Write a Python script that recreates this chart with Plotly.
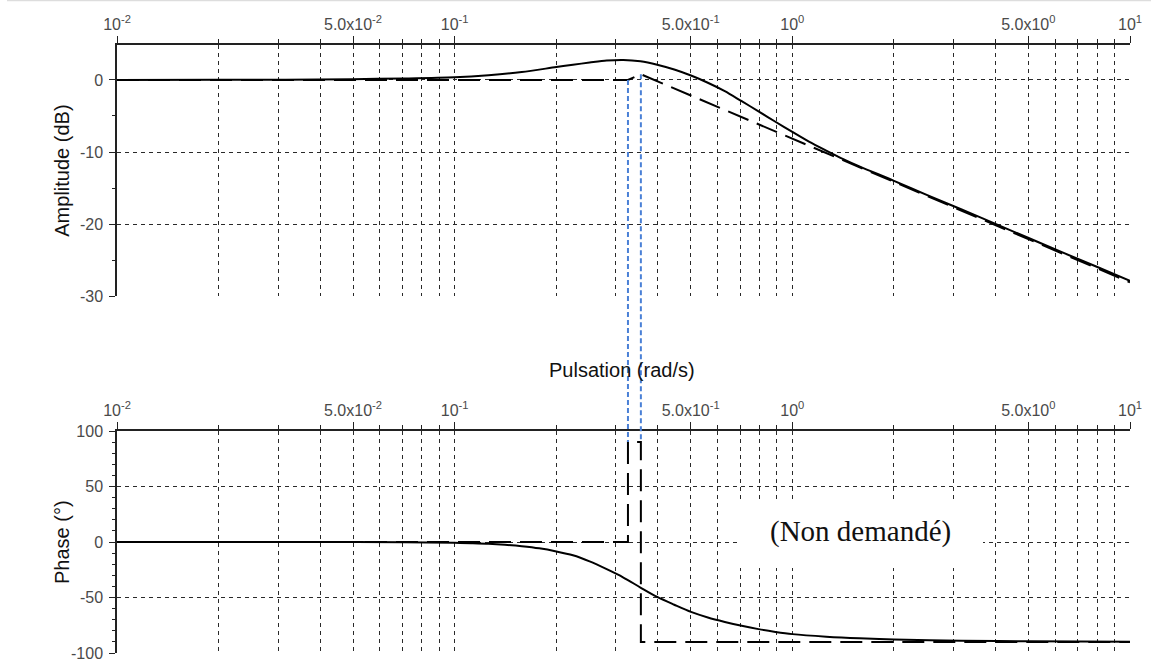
import numpy as np
import plotly.graph_objects as go

# ---- Bode data (pulsation in rad/s) ----
w_gain = [0.01, 0.02, 0.0316, 0.05, 0.0708, 0.1, 0.126, 0.158, 0.2, 0.224, 0.251,
          0.282, 0.316, 0.355, 0.398, 0.447, 0.501, 0.562, 0.631, 0.708, 0.794,
          0.891, 1.0, 1.12, 1.26, 1.41, 1.58, 2.0, 2.51, 3.16, 3.98, 5.01, 6.31,
          7.94, 10.0]
gain_db = [0.0, 0.02, 0.05, 0.12, 0.21, 0.37, 0.66, 1.1, 1.8, 2.12, 2.42,
           2.7, 2.79, 2.6, 2.12, 1.45, 0.62, -0.38, -1.55, -2.95, -4.35,
           -5.8, -7.2, -8.55, -9.8, -10.95, -12.0, -14.0, -16.0, -17.95, -19.95,
           -21.95, -23.95, -25.9, -27.9]

w_phase = [0.01, 0.05, 0.0708, 0.1, 0.112, 0.126, 0.141, 0.158, 0.178, 0.2, 0.224,
           0.251, 0.282, 0.316, 0.355, 0.398, 0.447, 0.501, 0.562, 0.631, 0.708,
           0.794, 0.891, 1.0, 1.26, 1.58, 2.0, 3.16, 5.01, 10.0]
phase_deg = [0.0, 0.0, -0.2, -0.7, -1.1, -1.6, -2.5, -3.8, -5.7, -8.5, -12.0,
             -17.5, -24.5, -32.0, -41.0, -49.5, -56.5, -63.0, -68.0, -72.0, -75.5,
             -78.5, -81.0, -83.0, -85.3, -86.8, -87.8, -89.0, -89.4, -89.8]

# Asymptotic (straight-line) approximations
w_gain_asym = [0.01, 0.326, 0.356, 10.0]
gain_asym = [0.0, 0.0, 0.8, -28.1]
w_phase_asym = [0.01, 0.326, 0.326, 0.356, 0.356, 10.0]
phase_asym = [0.0, 0.0, 90.0, 90.0, -90.0, -90.0]

# Tick labels
label_vals = [0.01, 0.05, 0.1, 0.5, 1.0, 5.0, 10.0]
label_text = ["10<sup>-2</sup>", "5.0x10<sup>-2</sup>", "10<sup>-1</sup>",
              "5.0x10<sup>-1</sup>", "10<sup>0</sup>", "5.0x10<sup>0</sup>",
              "10<sup>1</sup>"]
minor_vals = [k * 10.0 ** e for e in (-2, -1, 0) for k in (2, 3, 4, 6, 7, 8, 9)]
gain_ticks = [-30, -20, -10, 0]
gain_ticktext = ["-30", "-20", "-10", "0"]
phase_ticks = [-100, -50, 0, 50, 100]
phase_ticktext = ["-100", "-50", "0", "50", "100"]

# ---- layout geometry ----
W, H = 1151, 660
ML, MR, MT, MB = 117, 21, 45, 7
PW, PH = W - ML - MR, H - MT - MB
X_RANGE = [-2, 1]
GAIN_RANGE = [-30, 4.86]
PHASE_RANGE = [-100, 100]
top_dom = [(H - MB - 296) / PH, 1.0]
bot_dom = [0.0, (H - MB - 431) / PH]


def px_x(px):
    return (px - ML) / PW


def px_y(py):
    return (H - MB - py) / PH


def w_to_paper(w):
    return (np.log10(w) - X_RANGE[0]) / (X_RANGE[1] - X_RANGE[0])


def val_to_paper(v, dom, rng):
    return dom[0] + (v - rng[0]) / (rng[1] - rng[0]) * (dom[1] - dom[0])


GRID = "#2a2a2a"
LINE = "#222222"
TICKFONT = dict(family="Liberation Sans, Arial, sans-serif", size=16, color="#4a4a4a")
TITLEFONT = dict(family="Liberation Sans, Arial, sans-serif", size=20, color="#111111")
SMOOTH = dict(color="black", width=2, shape="spline", smoothing=0.8)
DASHED = dict(color="black", width=2, dash="22px,9px")

fig = go.Figure()

# Amplitude plot
fig.add_trace(go.Scatter(x=w_gain_asym, y=gain_asym, mode="lines", line=DASHED,
                         xaxis="x", yaxis="y", showlegend=False))
fig.add_trace(go.Scatter(x=w_gain, y=gain_db, mode="lines", line=SMOOTH,
                         xaxis="x", yaxis="y", showlegend=False))

# Phase plot
fig.add_trace(go.Scatter(x=w_phase_asym, y=phase_asym, mode="lines", line=DASHED,
                         xaxis="x2", yaxis="y2", showlegend=False))
fig.add_trace(go.Scatter(x=w_phase, y=phase_deg, mode="lines", line=SMOOTH,
                         xaxis="x2", yaxis="y2", showlegend=False))


def xaxis_cfg(anchor):
    return dict(
        type="log", range=X_RANGE, side="top", anchor=anchor,
        tickmode="array", tickvals=label_vals, ticktext=label_text,
        ticks="outside", ticklen=7, tickwidth=1, tickcolor=LINE,
        showline=True, linecolor=LINE, linewidth=1.5,
        showgrid=True, gridcolor=GRID, gridwidth=1, griddash="4px,4px",
        minor=dict(tickmode="array", tickvals=minor_vals, ticks="outside",
                   ticklen=4, tickcolor=LINE, showgrid=True, gridcolor=GRID,
                   gridwidth=1, griddash="4px,4px"),
        zeroline=False, tickfont=TICKFONT, fixedrange=True,
    )


def yaxis_cfg(anchor, dom, rng, major, major_text, minor_step):
    return dict(
        domain=dom, range=rng, anchor=anchor,
        tickmode="array", tickvals=major, ticktext=major_text,
        ticks="outside", ticklen=6, tickwidth=1, tickcolor=LINE,
        showline=True, linecolor=LINE, linewidth=1.5,
        showgrid=True, gridcolor=GRID, gridwidth=1, griddash="4px,4px",
        minor=dict(dtick=minor_step, tick0=0, ticks="outside", ticklen=3,
                   tickcolor=LINE, showgrid=False),
        zeroline=False, tickfont=TICKFONT, ticklabelstandoff=3,
        ticklabeloverflow="allow", fixedrange=True,
    )


fig.update_layout(
    width=W, height=H,
    margin=dict(l=ML, r=MR, t=MT, b=MB, autoexpand=False),
    paper_bgcolor="white", plot_bgcolor="white",
    xaxis=xaxis_cfg("y"),
    yaxis=yaxis_cfg("x", top_dom, GAIN_RANGE, gain_ticks, gain_ticktext, 5),
    xaxis2=xaxis_cfg("y2"),
    yaxis2=yaxis_cfg("x2", bot_dom, PHASE_RANGE, phase_ticks, phase_ticktext, 10),
)

# Blue dotted construction lines linking the break points of both asymptotes
shapes = []
for w_b, g_b in [(w_gain_asym[1], gain_asym[1]), (w_gain_asym[2], gain_asym[2])]:
    xp = w_to_paper(w_b)
    shapes.append(dict(
        type="line", xref="paper", yref="paper",
        x0=xp, x1=xp,
        y0=val_to_paper(g_b, top_dom, GAIN_RANGE),
        y1=val_to_paper(phase_asym[2], bot_dom, PHASE_RANGE),
        line=dict(color="#4a80d6", width=2, dash="5px,3px"), layer="above"))

# White box behind the note in the phase plot
shapes.append(dict(type="rect", xref="paper", yref="paper",
                   x0=px_x(737), x1=px_x(983), y0=px_y(568), y1=px_y(500),
                   fillcolor="white", line=dict(width=0), layer="above"))
# faint page edge at the very top
shapes.append(dict(type="line", xref="paper", yref="paper",
                   x0=px_x(7), x1=px_x(W), y0=px_y(0.5), y1=px_y(0.5),
                   line=dict(color="#dddddd", width=1.5), layer="above"))
fig.update_layout(shapes=shapes)

fig.update_layout(annotations=[
    dict(text="Amplitude (dB)", xref="paper", yref="paper",
         x=px_x(62), y=val_to_paper(-12.6, top_dom, GAIN_RANGE), textangle=-90,
         showarrow=False, font=TITLEFONT, xanchor="center", yanchor="middle"),
    dict(text="Phase (°)", xref="paper", yref="paper",
         x=px_x(62), y=val_to_paper(0, bot_dom, PHASE_RANGE), textangle=-90,
         showarrow=False, font=TITLEFONT, xanchor="center", yanchor="middle"),
    dict(text="Pulsation (rad/s)", xref="paper", yref="paper",
         x=px_x(622), y=px_y(370), showarrow=False, font=TITLEFONT,
         xanchor="center", yanchor="middle"),
    dict(text="(Non demandé)", xref="paper", yref="paper",
         x=px_x(860), y=px_y(531), showarrow=False,
         font=dict(family="Liberation Serif, serif", size=29, color="#111111"),
         xanchor="center", yanchor="middle"),
])

fig.write_html("out.html")
